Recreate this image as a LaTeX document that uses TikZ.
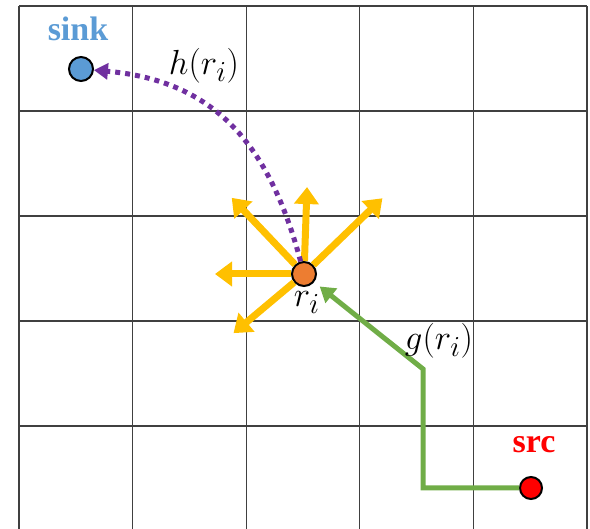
\documentclass[tikz,border=0pt]{standalone}
\usepackage{fontspec}
\setmainfont{Liberation Serif}
\usepackage{tikz}
\usetikzlibrary{arrows.meta,positioning}
\definecolor{skblue}{HTML}{5B9BD5}
\definecolor{riorange}{HTML}{ED7D31}
\definecolor{dirgold}{HTML}{FFC000}
\definecolor{gpgreen}{HTML}{70AD47}
\definecolor{hppurple}{HTML}{7030A0}
\definecolor{gridgray}{HTML}{404040}

\begin{document}
\begin{tikzpicture}[x=1pt,y=1pt,
  cellline/.style={draw=gridgray,line width=1.3pt},
  dot/.style={circle,draw=black,line width=2pt,minimum size=24pt,inner sep=0pt},
  spoke/.style={draw=dirgold,line width=7pt,-{Triangle[width=24pt,length=17pt]}},
  gpath/.style={draw=gpgreen,line width=5pt,shorten >=7pt,-{Triangle[width=18pt,length=15pt]}},
  hpath/.style={draw=hppurple,line width=5pt,dash pattern=on 5pt off 5pt,-{Triangle[width=16pt,length=14pt]}},
  mlbl/.style={font=\Huge,scale=1.4},
  tag/.style={font=\fontsize{34}{40}\selectfont\bfseries}]
\useasboundingbox (0,0) rectangle (590,529);
% grid
\foreach \x in {19,132.6,246.2,359.8,473.4,587} {
   \draw[cellline] (\x,-5) -- (\x,523);
}
\foreach \y in {523,418,313,208,103} {
   \draw[cellline] (19,\y) -- (587,\y);
}
% points
\node[dot,fill=skblue] (sink) at (81,460) {};
\node[dot,fill=riorange] (ri) at (304,255) {};
\node[dot,fill=red,minimum size=22pt] (src) at (531,41) {};
\node[tag,text=skblue,above=12pt of sink,xshift=-3pt] (sinklbl) {sink};
\node[tag,text=red,above=20pt of src,xshift=3pt] (srclbl) {src};
\node[mlbl,below=0pt of ri,xshift=2pt] (rilbl) {$r_i$};
% directions out of r_i
\foreach \a/\l [count=\i] in {88/87,44/109,133.5/105,180/89,220/92} {
   \path (ri) ++(\a:\l) coordinate (tip\i);
   \draw[spoke] (ri) -- (tip\i);
}
% g(r_i)
\coordinate (gbot) at (423,41);
\coordinate (gtop) at (423,160);
\draw[gpath] (src) -- (gbot) -- (gtop) -- (ri);
\node[mlbl] (glbl) at (439,188) {$g(r_i)$};
% h(r_i)
\draw[hpath] (ri.105) to[out=105,in=-5,looseness=1.1] (sink);
\node[mlbl] (hlbl) at (204,463) {$h(r_i)$};
\end{tikzpicture}
\end{document}
